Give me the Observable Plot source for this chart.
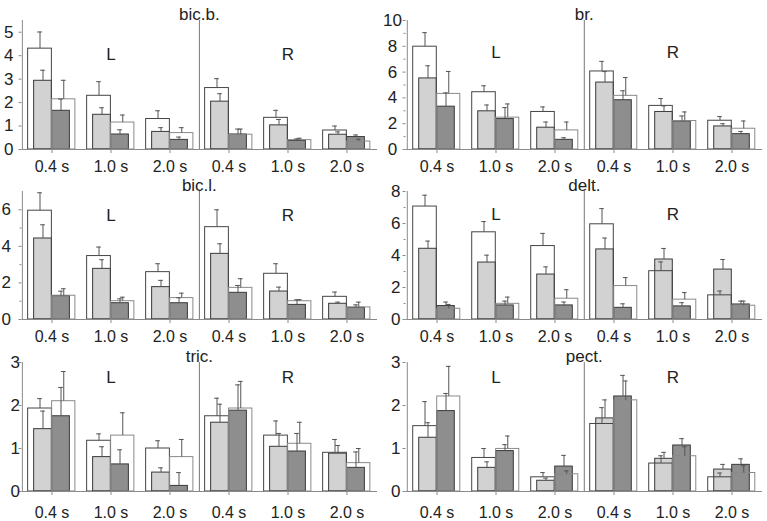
<!DOCTYPE html>
<html><head><meta charset="utf-8">
<script src="https://cdn.jsdelivr.net/npm/d3@7"></script>
<script src="https://cdn.jsdelivr.net/npm/@observablehq/plot@0.6"></script>
<style>
body{margin:0;background:#fff;}
#fig{position:relative;width:767px;height:521px;overflow:hidden;font-family:"Liberation Sans",Arial,Helvetica,sans-serif;background:#fff;}
#fig > div{position:absolute;}
</style></head><body><div id="fig"></div>
<script>
// ---- categories & labels ----
const groups = ["L 0.4", "L 1.0", "L 2.0", "R 0.4", "R 1.0", "R 2.0"];
const tickLabels = ["0.4 s", "1.0 s", "2.0 s", "0.4 s", "1.0 s", "2.0 s"];
const sideLabels = ["L", "R"];
const muscles = ["bic.b.", "br.", "bic.l.", "delt.", "tric.", "pect."];
const yMax = [5.5, 10, 7, 8, 3, 3];
const yStep = [1, 2, 2, 2, 1, 1];

// ---- bic.b. ----
const bicb_open1 = [4.30, 2.29, 1.30, 2.62, 1.35, 0.81];
const bicb_open1_sd = [0.71, 0.60, 0.35, 0.40, 0.32, 0.19];
const bicb_light = [2.93, 1.48, 0.75, 2.04, 1.03, 0.63];
const bicb_light_sd = [0.45, 0.30, 0.18, 0.34, 0.25, 0.12];
const bicb_open2 = [2.14, 1.15, 0.70, 0.63, 0.40, 0.34];
const bicb_open2_sd = [0.81, 0.32, 0.23, 0.24, 0.08, 0.10];
const bicb_dark = [1.65, 0.64, 0.41, 0.64, 0.37, 0.53];
const bicb_dark_sd = [0.50, 0.20, 0.12, 0.23, 0.08, 0.09];

// ---- br. ----
const br_open1 = [7.97, 4.44, 2.91, 6.05, 3.38, 2.23];
const br_open1_sd = [1.09, 0.50, 0.39, 0.78, 0.57, 0.32];
const br_light = [5.51, 2.96, 1.69, 5.19, 2.91, 1.79];
const br_light_sd = [0.98, 0.49, 0.44, 0.85, 0.47, 0.21];
const br_open2 = [4.31, 2.47, 1.48, 4.16, 2.21, 1.61];
const br_open2_sd = [1.74, 1.06, 0.65, 1.42, 0.70, 0.60];
const br_dark = [3.32, 2.36, 0.75, 3.82, 2.18, 1.19];
const br_dark_sd = [1.07, 0.89, 0.16, 0.73, 0.42, 0.21];

// ---- bic.l. ----
const bicl_open1 = [5.95, 3.47, 2.59, 5.05, 2.50, 1.24];
const bicl_open1_sd = [0.98, 0.49, 0.46, 0.95, 0.55, 0.26];
const bicl_light = [4.43, 2.77, 1.77, 3.59, 1.53, 0.86];
const bicl_light_sd = [0.75, 0.50, 0.37, 0.55, 0.24, 0.09];
const bicl_open2 = [1.30, 1.00, 1.17, 1.73, 1.00, 0.66];
const bicl_open2_sd = [0.38, 0.22, 0.27, 0.50, 0.08, 0.29];
const bicl_dark = [1.28, 0.89, 0.89, 1.46, 0.80, 0.64];
const bicl_dark_sd = [0.27, 0.24, 0.30, 0.40, 0.28, 0.16];

// ---- delt. ----
const delt_open1 = [7.06, 5.45, 4.59, 5.95, 3.02, 1.51];
const delt_open1_sd = [0.71, 0.67, 0.79, 0.98, 0.58, 0.27];
const delt_light = [4.42, 3.56, 2.81, 4.38, 3.75, 3.12];
const delt_light_sd = [0.48, 0.46, 0.48, 0.71, 0.69, 0.63];
const delt_open2 = [0.67, 0.98, 1.30, 2.09, 1.24, 0.86];
const delt_open2_sd = [0.27, 0.42, 0.56, 0.53, 0.44, 0.29];
const delt_dark = [0.84, 0.88, 0.88, 0.73, 0.82, 0.94];
const delt_dark_sd = [0.25, 0.27, 0.21, 0.25, 0.23, 0.21];

// ---- tric. ----
const tric_open1 = [1.93, 1.18, 1.00, 1.75, 1.30, 0.90];
const tric_open1_sd = [0.23, 0.16, 0.18, 0.42, 0.34, 0.31];
const tric_light = [1.45, 0.80, 0.44, 1.60, 1.04, 0.88];
const tric_light_sd = [0.42, 0.24, 0.11, 0.43, 0.31, 0.19];
const tric_open2 = [2.10, 1.30, 0.80, 1.93, 1.11, 0.66];
const tric_open2_sd = [0.69, 0.53, 0.41, 0.63, 0.50, 0.34];
const tric_dark = [1.75, 0.63, 0.13, 1.88, 0.93, 0.55];
const tric_dark_sd = [0.67, 0.34, 0.31, 0.60, 0.42, 0.37];

// ---- pect. ----
const pect_open1 = [1.52, 0.78, 0.33, 1.57, 0.65, 0.33];
const pect_open1_sd = [0.57, 0.22, 0.11, 0.38, 0.18, 0.10];
const pect_light = [1.25, 0.55, 0.25, 1.70, 0.76, 0.51];
const pect_light_sd = [0.35, 0.14, 0.06, 0.43, 0.15, 0.12];
const pect_open2 = [2.21, 0.99, 0.40, 2.12, 0.82, 0.43];
const pect_open2_sd = [0.70, 0.30, 0.08, 0.45, 0.22, 0.17];
const pect_dark = [1.87, 0.94, 0.58, 2.21, 1.07, 0.62];
const pect_dark_sd = [0.41, 0.15, 0.26, 0.49, 0.16, 0.14];

// ---- tables built from the arrays ----
const seriesSets = [
  [bicb_open1, bicb_open1_sd, bicb_light, bicb_light_sd, bicb_open2, bicb_open2_sd, bicb_dark, bicb_dark_sd],
  [br_open1, br_open1_sd, br_light, br_light_sd, br_open2, br_open2_sd, br_dark, br_dark_sd],
  [bicl_open1, bicl_open1_sd, bicl_light, bicl_light_sd, bicl_open2, bicl_open2_sd, bicl_dark, bicl_dark_sd],
  [delt_open1, delt_open1_sd, delt_light, delt_light_sd, delt_open2, delt_open2_sd, delt_dark, delt_dark_sd],
  [tric_open1, tric_open1_sd, tric_light, tric_light_sd, tric_open2, tric_open2_sd, tric_dark, tric_dark_sd],
  [pect_open1, pect_open1_sd, pect_light, pect_light_sd, pect_open2, pect_open2_sd, pect_dark, pect_dark_sd]
];

const FONT = '"Liberation Sans", Arial, Helvetica, sans-serif';
const LIGHT = "#d2d2d2", DARK = "#8e8e8e", OUTLINE = "#3a3a3a";
const AXIS = "#8a8a8a", TEXT = "#222";

// layout (style) settings per panel
const yPad = [10.2, 10.5, 12.7, 7.2, 3.7, 7.2];
const lrDy = [34, 32, 24, 23, 15, 15];
const rowTop = [0, 171, 342];
const rowPlotH = [129, 128, 129];
const xPad = [7, 7, 7, 7, 11, 11];

const fig = document.getElementById("fig");

function panel(k) {
  const col = k % 2, row = Math.floor(k / 2);
  const W = col ? 383 : 384;
  const ml = 21.5, mr = col ? 5 : 7, mt = 20, mb = 32;
  const H = mt + rowPlotH[row] + mb;
  const bw = (W - ml - mr) / groups.length;
  const h = bw / 2;
  const s = seriesSets[k];
  const tbl = groups.map((g, i) => ({
    g,
    o1: s[0][i], o1e: s[1][i],
    l: s[2][i], le: s[3][i],
    o2: s[4][i], o2e: s[5][i],
    d: s[6][i], de: s[7][i]
  }));
  const offs = {o1: -12, l: -9, o2: 11.75, d: 9};
  const err = (key, ekey, color) => [
    Plot.ruleX(tbl, {x: "g", y1: key, y2: r => r[key] + r[ekey], dx: offs[key], stroke: color, strokeWidth: 1}),
    Plot.tickY(tbl, {x: "g", y: r => r[key] + r[ekey], insetLeft: h + offs[key] - 2.5, insetRight: h - offs[key] - 2.5, stroke: color, strokeWidth: 1})
  ];
  const major = d3.range(0, yMax[k] + 1e-9, yStep[k]);
  const minor = yStep[k] === 2 ? d3.range(1, yMax[k], 2) : [];

  const chart = Plot.plot({
    width: W, height: H,
    marginLeft: ml, marginRight: mr, marginTop: mt, marginBottom: mb,
    style: {background: "transparent", overflow: "visible", fontFamily: FONT, color: TEXT},
    x: {domain: groups, padding: 0, axis: null},
    y: {domain: [0, yMax[k]], axis: null},
    marks: [
      Plot.barY(tbl, {x: "g", y: "l", fill: LIGHT, stroke: OUTLINE, strokeWidth: 1, insetLeft: h - 18, insetRight: h}),
      Plot.barY(tbl, {x: "g", y: "d", fill: DARK, stroke: OUTLINE, strokeWidth: 1, insetLeft: h, insetRight: h - 18}),
      Plot.barY(tbl, {x: "g", y: "o1", fill: "none", stroke: "#454545", strokeWidth: 1, insetLeft: h - 24, insetRight: h}),
      Plot.barY(tbl, {x: "g", y: "o2", fill: "none", stroke: "#8a8a8a", strokeWidth: 1, insetLeft: h, insetRight: h - 23.5}),
      ...err("o1", "o1e", "#555"),
      ...err("l", "le", "#555"),
      ...err("o2", "o2e", "#555"),
      ...err("d", "de", "#555"),
      // axis lines & separator
      Plot.ruleX([groups[0]], {x: d => d, dx: -h, stroke: AXIS}),
      Plot.ruleY([0], {stroke: AXIS}),
      Plot.ruleX([groups[3]], {x: d => d, dx: -h, stroke: "#777"}),
      Plot.axisY({ticks: major, tickSize: 3, tickPadding: yPad[k], textAnchor: "middle", stroke: AXIS, fill: TEXT, fontSize: 17, label: null,
        tickFormat: d => String(d)}),
      ...(minor.length ? [Plot.axisY({ticks: minor, tickSize: 2, tickFormat: () => "", stroke: AXIS, label: null})] : []),
      Plot.axisX({tickSize: 4, tickPadding: xPad[k], stroke: AXIS, fill: TEXT, fontSize: 16, label: null,
        tickFormat: d => tickLabels[groups.indexOf(d)]}),
      // title and side labels
      Plot.text([muscles[k]], {x: () => groups[3], dx: -h, text: d => d, frameAnchor: "top", lineAnchor: "bottom", dy: -1, fontSize: 17, fill: TEXT}),
      Plot.text(sideLabels, {x: d => d === "L" ? groups[1] : groups[4], text: d => d, frameAnchor: "top", lineAnchor: "middle", dy: lrDy[k], fontSize: 17, fill: TEXT})
    ]
  });
  const wrap = document.createElement("div");
  wrap.style.left = (col ? 384 : 0) + "px";
  wrap.style.top = rowTop[row] + "px";
  wrap.appendChild(chart);
  fig.appendChild(wrap);
}

for (let k = 0; k < 6; k++) panel(k);
</script>
</body></html>
